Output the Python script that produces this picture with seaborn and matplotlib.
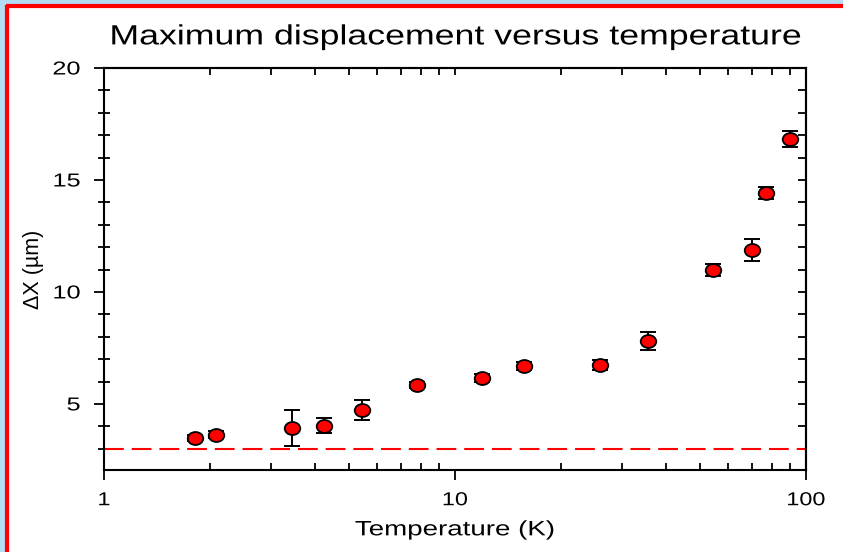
import numpy as np
import pandas as pd
import matplotlib
matplotlib.use("Agg")
import matplotlib.pyplot as plt
import seaborn as sns
from matplotlib.patches import Rectangle
from matplotlib.lines import Line2D
from matplotlib.path import Path
from matplotlib.transforms import Affine2D
from matplotlib.patheffects import AbstractPathEffect

# Measured maximum displacement against temperature
temperature_K = [1.82, 2.08, 3.43, 4.23, 5.43, 7.79, 11.9, 15.7, 25.9, 35.5, 54.3, 70.2, 76.9, 90.0]
displacement_um = [3.48, 3.62, 3.93, 4.02, 4.73, 5.85, 6.16, 6.70, 6.74, 7.81, 10.98, 11.88, 14.42, 16.83]
displacement_err = [0.15, 0.15, 0.80, 0.33, 0.45, 0.15, 0.18, 0.18, 0.22, 0.40, 0.25, 0.50, 0.28, 0.35]
baseline_um = 3.0

df = pd.DataFrame({"T": temperature_K, "dX": displacement_um, "err": displacement_err})


class HStretch(AbstractPathEffect):
    """Widen glyphs horizontally about the left, right or centre of the string."""

    def __init__(self, sx, anchor="center"):
        super().__init__()
        self.sx = sx
        self.anchor = anchor

    def draw_path(self, renderer, gc, tpath, affine, rgbFace=None):
        ext = tpath.get_extents()
        c = {"left": ext.x0, "right": ext.x1, "center": 0.5 * (ext.x0 + ext.x1)}[self.anchor]
        t = Affine2D().translate(-c, 0).scale(self.sx, 1.0).translate(c, 0) + affine
        renderer.draw_path(gc, tpath, t, rgbFace)


sns.set_theme(style="ticks")
plt.rcParams["font.family"] = ["Liberation Sans", "DejaVu Sans"]

fig = plt.figure(figsize=(8.43, 5.52), dpi=100)
fig.patch.set_facecolor("#b4dcf2")

W, H = 843.0, 552.0
# white slide panel with red frame on the left and top
fig.patches.append(Rectangle((8 / W, 0), 1 - 8 / W, 1 - 8 / H, transform=fig.transFigure,
                             facecolor="white", edgecolor="none", zorder=-3))
fig.lines.append(Line2D([7 / W, 7 / W], [0, 1 - 5 / H], transform=fig.transFigure,
                        color="#ff0000", lw=3.0, solid_capstyle="butt", zorder=-2))
fig.lines.append(Line2D([5.5 / W, 1], [1 - 6 / H, 1 - 6 / H], transform=fig.transFigure,
                        color="#ff0000", lw=3.0, solid_capstyle="butt", zorder=-2))

ax = fig.add_axes([104 / W, 1 - 470 / H, (806 - 104) / W, (470 - 68) / H])
ax.set_facecolor("white")

ax.axhline(baseline_um, color="#ff0000", lw=1.5, dashes=(9.5, 3.8), zorder=1)

ax.errorbar(df["T"], df["dX"], yerr=df["err"], fmt="none", ecolor="black",
            elinewidth=1.4, capsize=5.8, capthick=1.4, zorder=2)

# slightly wide oval marker
oval = Path.unit_circle().transformed(Affine2D().scale(1.2, 1.0))
sns.scatterplot(data=df, x="T", y="dX", ax=ax, color="#ff0000", edgecolor="black",
                marker=oval, linewidth=1.3, s=125, zorder=3, legend=False)

ax.set_xscale("log")
ax.set_xlim(1, 100)
ax.set_ylim(2.05, 20)
ax.set_xticks([1, 10, 100])
ax.set_xticklabels(["1", "10", "100"])
ax.set_yticks([5, 10, 15, 20])
ax.set_yticklabels(["5", "10", "15", "20"])
ax.set_yticks(np.arange(3, 20, 1), minor=True)
ax.xaxis.set_minor_locator(matplotlib.ticker.LogLocator(base=10, subs=np.arange(2, 10)))
ax.xaxis.set_minor_formatter(matplotlib.ticker.NullFormatter())

for side in ["left", "right", "top", "bottom"]:
    ax.spines[side].set_linewidth(1.5)
    ax.spines[side].set_color("black")

ax.tick_params(axis="both", which="major", direction="out", length=7, width=1.3,
               labelsize=13.5, colors="black")
ax.tick_params(axis="both", which="minor", direction="inout", length=9, width=1.3, colors="black")
ax.tick_params(axis="x", which="minor", direction="in", length=5)
ax.tick_params(axis="x", which="major", pad=9)
ax.tick_params(axis="y", which="major", pad=10)
ax.tick_params(axis="y", right=False, which="both")
ax.tick_params(axis="x", top=False, which="both")

# right axis: inward ticks at every unit, no labels
sec_y = ax.secondary_yaxis("right")
sec_y.set_yticks(np.arange(3, 21, 1))
sec_y.set_yticklabels([])
sec_y.tick_params(axis="y", direction="in", length=6, width=1.3, colors="black")
sec_y.spines["right"].set_linewidth(1.5)

# top axis: inward log ticks, no labels
sec_x = ax.secondary_xaxis("top")
sec_x.set_xticks([1, 10, 100])
sec_x.set_xticklabels([])
sec_x.xaxis.set_minor_locator(matplotlib.ticker.LogLocator(base=10, subs=np.arange(2, 10)))
sec_x.xaxis.set_minor_formatter(matplotlib.ticker.NullFormatter())
sec_x.tick_params(axis="x", which="both", direction="in", length=5, width=1.3, colors="black")
sec_x.spines["top"].set_linewidth(1.5)

for lbl in ax.get_xticklabels():
    lbl.set_path_effects([HStretch(1.25, "center")])
for lbl in ax.get_yticklabels():
    lbl.set_path_effects([HStretch(1.35, "right")])

ax.set_xlabel("Temperature (K)", fontsize=15, labelpad=8, color="black",
              path_effects=[HStretch(1.33, "center")])
ax.set_ylabel("\u0394X (\u00b5m)", fontsize=15.5, labelpad=11, color="black")
ax.set_title("Maximum displacement versus temperature", fontsize=20, pad=17, color="black",
             path_effects=[HStretch(1.285, "center")])

fig.savefig("out.png", dpi=100, facecolor=fig.get_facecolor())
